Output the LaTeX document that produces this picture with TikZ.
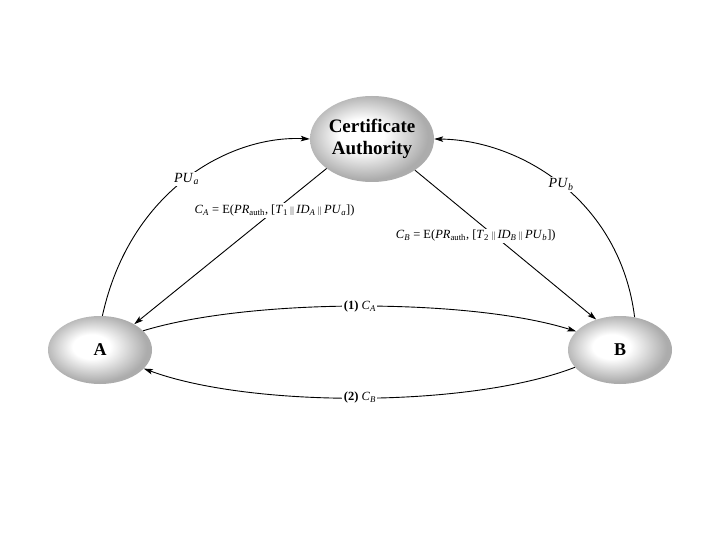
\documentclass[tikz,border=0pt]{standalone}
\usepackage{fontspec}
\setmainfont{Liberation Serif}
\usetikzlibrary{arrows.meta,shapes.geometric}
\pgfdeclareradialshading{orb}{\pgfpoint{-5bp}{3bp}}{color(0bp)=(white); color(9bp)=(white); color(25bp)=(gray!65); color(50bp)=(gray!65)}
\newcommand{\vv}[1]{\textit{#1}}
\newcommand{\sbs}[1]{\textsubscript{#1}}
\newcommand{\cc}{\kern2.5pt\raisebox{0.3pt}{\scalebox{0.6}[0.75]{\textbar\kern0.8pt\textbar}}\kern2.5pt}
\begin{document}
\begin{tikzpicture}[x=1pt,y=-1pt,
  party/.style={ellipse,draw=none,shading=orb,minimum width=104pt,minimum height=68pt,inner sep=0pt,font=\fontsize{18}{20}\selectfont\bfseries},
  caell/.style={ellipse,draw=none,shading=orb,minimum width=124pt,minimum height=86pt,inner sep=0pt,align=center,font=\fontsize{19}{22}\selectfont\bfseries},
  arr/.style={line width=0.9pt,-{Stealth[length=9pt,width=5.5pt,inset=2pt]}},
  lbl/.style={fill=white,inner sep=1.5pt,font=\fontsize{12.5}{14}\selectfont},
  pulbl/.style={fill=white,inner sep=1.5pt,font=\fontsize{14}{16}\selectfont}]
\useasboundingbox[fill=white] (0,0) rectangle (720,540);
\node[caell] (CA) at (372,139) {Certificate\\Authority};
\node[party] (A) at (100,350) {A};
\node[party] (B) at (620,350) {B};
\draw[arr] (A.86) .. controls (130,190) and (230,135) .. node[pos=0.5,pulbl] (pua) {\vv{PU}\sbs{\vv{a}}} (CA.west);
\draw[arr] (B.66) .. controls (620,200) and (520,140) .. node[pos=0.5,pulbl] (pub) {\vv{PU}\sbs{\vv{b}}} (CA.east);
\draw[arr] (CA.213) -- node[pos=0.27,lbl] (lca) {\vv{C}\sbs{\vv{A}} = E(\vv{PR}\sbs{auth}, [\vv{T}\sbs{1}\cc\vv{ID}\sbs{\vv{A}}\cc\vv{PU}\sbs{\vv{a}}])} (A.37);
\draw[arr] (CA.324) -- node[pos=0.44,xshift=-19pt,lbl] (lcb) {\vv{C}\sbs{\vv{B}} = E(\vv{PR}\sbs{auth}, [\vv{T}\sbs{2}\cc\vv{ID}\sbs{\vv{B}}\cc\vv{PU}\sbs{\vv{b}}])} (B.128);
\draw[arr] (A.24) .. controls (250,298) and (470,298) .. node[pos=0.5,lbl] (m1) {\textbf{(1)} \vv{C}\sbs{\vv{A}}} (B.157);
\draw[arr] (B.201) .. controls (470,408) and (250,408) .. node[pos=0.5,lbl] (m2) {\textbf{(2)} \vv{C}\sbs{\vv{B}}} (A.337);
\end{tikzpicture}
\end{document}
